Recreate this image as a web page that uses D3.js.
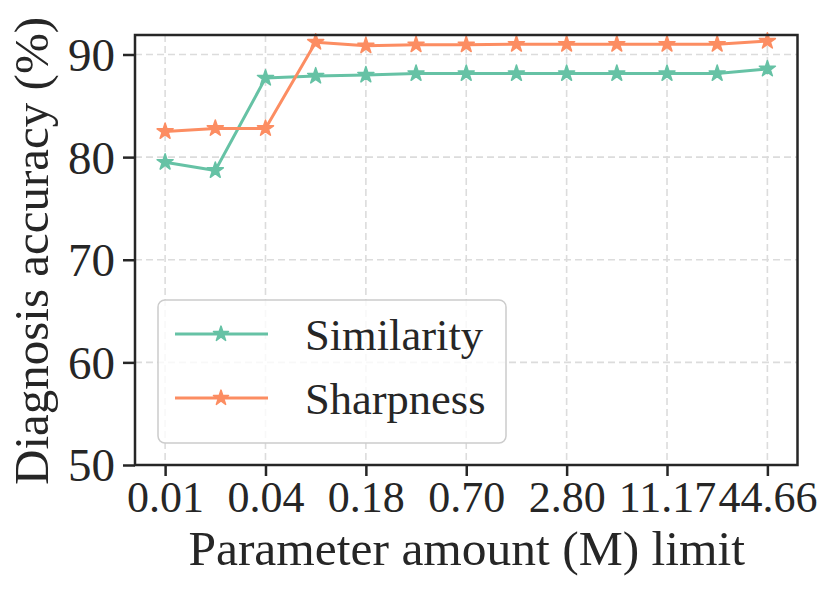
<!DOCTYPE html>
<html>
<head>
<meta charset="utf-8">
<script src="https://cdn.jsdelivr.net/npm/d3@7"></script>
<style>
  html, body { margin: 0; padding: 0; background: #fff; }
  svg text { font-family: "Liberation Serif", "Times New Roman", Times, serif; fill: #262626; }
</style>
</head>
<body>
<svg id="chart" width="830" height="591"></svg>
<script>
// ---- data ----
const categories = ["0.01","0.02","0.04","0.09","0.18","0.35","0.70","1.40","2.80","5.59","11.17","22.33","44.66"];
const xTickLabels = ["0.01","0.04","0.18","0.70","2.80","11.17","44.66"];
const yTicks = [50, 60, 70, 80, 90];
const similarity = [79.5, 78.7, 87.7, 87.9, 88.0, 88.15, 88.15, 88.15, 88.15, 88.15, 88.15, 88.15, 88.6];
const sharpness  = [82.5, 82.8, 82.8, 91.2, 90.85, 90.95, 90.95, 91.0, 91.0, 91.0, 91.0, 91.0, 91.3];
const seriesNames = ["Similarity", "Sharpness"];
const seriesColors = ["#66c2a5", "#fc8d62"];

// ---- layout ----
const svg = d3.select("#chart");
const pL = 135, pR = 797.5, pT = 35, pB = 465;
const n = categories.length;
const x = d3.scaleLinear().domain([-0.6, n - 1 + 0.6]).range([pL, pR]);
const y = d3.scaleLinear().domain([50, 91.9]).range([pB, pT]);

const textColor = "#262626";
const gridColor = "#dcdcdc";
const fontFam = '"Liberation Serif", "Times New Roman", Times, serif';

// grid
const tickIdx = xTickLabels.map(l => categories.indexOf(l));
const grid = svg.append("g");
grid.selectAll("line.v").data(tickIdx).enter().append("line")
  .attr("x1", d => x(d)).attr("x2", d => x(d)).attr("y1", pT).attr("y2", pB)
  .attr("stroke", gridColor).attr("stroke-width", 1.6).attr("stroke-dasharray", "7,4");
grid.selectAll("line.h").data(yTicks).enter().append("line")
  .attr("x1", pL).attr("x2", pR).attr("y1", d => y(d)).attr("y2", d => y(d))
  .attr("stroke", gridColor).attr("stroke-width", 1.6).attr("stroke-dasharray", "7,4");

// series lines + markers
const star = d3.symbol().type(d3.symbolStar).size(80);
const allSeries = [similarity, sharpness];
allSeries.forEach((vals, si) => {
  const line = d3.line().x((d, i) => x(i)).y(d => y(d));
  svg.append("path").datum(vals).attr("d", line)
    .attr("fill", "none").attr("stroke", seriesColors[si]).attr("stroke-width", 3)
    .attr("stroke-linejoin", "round");
  svg.append("g").selectAll("path").data(vals).enter().append("path")
    .attr("d", star)
    .attr("transform", (d, i) => `translate(${x(i)},${y(d)})`)
    .attr("fill", seriesColors[si]).attr("stroke", seriesColors[si]).attr("stroke-width", 1.5)
    .attr("stroke-linejoin", "round");
});

// axes
const xAxis = d3.axisBottom(x).tickValues(tickIdx).tickFormat(d => categories[d]).tickSize(11).tickPadding(5);
const gx = svg.append("g").attr("transform", `translate(0,${pB})`).call(xAxis);
gx.attr("font-family", fontFam);
gx.select(".domain").remove();
gx.selectAll(".tick line").attr("stroke", textColor).attr("stroke-width", 2.5);
gx.selectAll(".tick text").attr("font-size", 44).attr("fill", textColor)
  .style("font-family", fontFam);

const yAxis = d3.axisLeft(y).tickValues(yTicks).tickSize(12).tickPadding(8);
const gy = svg.append("g").attr("transform", `translate(${pL},0)`).call(yAxis);
gy.attr("font-family", fontFam);
gy.select(".domain").remove();
gy.selectAll(".tick line").attr("stroke", textColor).attr("stroke-width", 2.5);
gy.selectAll(".tick text").attr("font-size", 47).attr("fill", textColor).attr("dy", "0.34em")
  .style("font-family", fontFam);

// frame
svg.append("rect").attr("x", pL).attr("y", pT).attr("width", pR - pL).attr("height", pB - pT)
  .attr("fill", "none").attr("stroke", textColor).attr("stroke-width", 2.5);

// axis labels
svg.append("text").attr("x", (pL + pR) / 2 + 0.5).attr("y", 565).attr("text-anchor", "middle")
  .attr("font-size", 49.5).text("Parameter amount (M) limit");
svg.append("text").attr("transform", `translate(48,${(pT + pB) / 2 + 1}) rotate(-90)`)
  .attr("text-anchor", "middle").attr("font-size", 49).text("Diagnosis accuracy (%)");

// legend
const lg = svg.append("g");
lg.append("rect").attr("x", 158).attr("y", 300).attr("width", 348).attr("height", 143)
  .attr("rx", 7).attr("fill", "#fff").attr("fill-opacity", 0.8).attr("stroke", "#cccccc").attr("stroke-width", 1.5);
const legStar = d3.symbol().type(d3.symbolStar).size(70);
seriesNames.forEach((name, i) => {
  const ly = 334 + i * 64;
  lg.append("line").attr("x1", 175).attr("x2", 268).attr("y1", ly).attr("y2", ly)
    .attr("stroke", seriesColors[i]).attr("stroke-width", 3);
  lg.append("path").attr("d", legStar).attr("transform", `translate(221,${ly})`)
    .attr("fill", seriesColors[i]).attr("stroke", seriesColors[i]).attr("stroke-width", 1.5)
    .attr("stroke-linejoin", "round");
  lg.append("text").attr("x", 305).attr("y", ly + 16).attr("font-size", 44.5).text(name);
});
</script>
</body>
</html>
